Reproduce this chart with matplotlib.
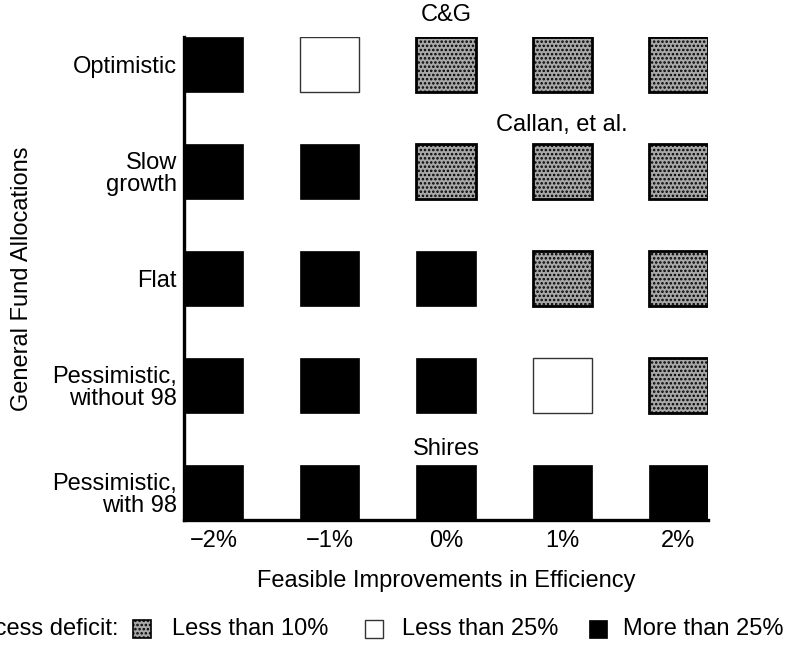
import matplotlib
matplotlib.use("Agg")
import matplotlib.pyplot as plt
from matplotlib.patches import Rectangle

# Scenarios listed top to bottom, improvement levels left to right
scenarios = ["Optimistic", "Slow\ngrowth", "Flat", "Pessimistic,\nwithout 98", "Pessimistic,\nwith 98"]
improvements = ["\u22122%", "\u22121%", "0%", "1%", "2%"]

# Deficit class per cell: 0 = less than 10%, 1 = less than 25%, 2 = more than 25%
deficit_class = [
    [2, 1, 0, 0, 0],
    [2, 2, 0, 0, 0],
    [2, 2, 2, 0, 0],
    [2, 2, 2, 1, 0],
    [2, 2, 2, 2, 2],
]
class_labels = ["Less than 10%", "Less than 25%", "More than 25%"]

annotations = [("C&G", 2, 4.46), ("Callan, et al.", 3, 3.43), ("Shires", 2, 0.41)]

plt.rcParams["font.family"] = ["Liberation Sans", "DejaVu Sans"]
plt.rcParams["hatch.linewidth"] = 1.2
FS = 17

STYLES = {
    0: dict(facecolor="#a8a8a8", edgecolor="black", hatch="....", linewidth=2.0),
    1: dict(facecolor="white", edgecolor="#333333", linewidth=1.0),
    2: dict(facecolor="black", edgecolor="black", linewidth=0.5),
}

W, H = 0.509, 0.514

fig = plt.figure(figsize=(7.86, 6.49), dpi=100)
ax = fig.add_axes([184 / 786, 1 - 520 / 649, 524 / 786, 483 / 649])

n_rows = len(scenarios)
for cls in range(3):
    xs, ys = [], []
    for r, row in enumerate(deficit_class):
        for c, v in enumerate(row):
            if v == cls:
                xs.append(c)
                ys.append(n_rows - 1 - r)
    ax.bar(xs, H, bottom=[y - H / 2 for y in ys], width=W, **STYLES[cls], zorder=2)

ax.set_xlim(-W / 2, len(improvements) - 1 + W / 2)
ax.set_ylim(-H / 2, n_rows - 1 + H / 2)
ax.set_xticks(range(len(improvements)))
ax.set_xticklabels(improvements, fontsize=FS)
ax.set_yticks(range(n_rows))
ax.set_yticklabels(scenarios[::-1], fontsize=FS, linespacing=1.0)
ax.tick_params(axis="both", length=0)
ax.tick_params(axis="x", pad=7)
ax.tick_params(axis="y", pad=5)

for side in ("top", "right"):
    ax.spines[side].set_visible(False)
for side in ("left", "bottom"):
    ax.spines[side].set_linewidth(2.4)
    ax.spines[side].set_zorder(3)

ax.set_xlabel("Feasible Improvements in Efficiency", fontsize=FS, labelpad=13)
ax.set_ylabel("General Fund Allocations", fontsize=FS, labelpad=14)

for text, x, y in annotations:
    ax.text(x, y, text, ha="center", va="center", fontsize=FS, clip_on=False)

# Legend row along the bottom of the figure (its title runs off the left edge, as in the source)
ly = 1 - 629 / 649
fig.text(118 / 786, ly, "Excess deficit:", ha="right", va="center", fontsize=FS)
icon_x = [133, 365, 589]
text_x = [172, 402, 623]
size = 18
for cls, (ix, tx) in enumerate(zip(icon_x, text_x)):
    style = dict(STYLES[cls])
    style["linewidth"] = min(style["linewidth"], 1.2)
    fig.add_artist(Rectangle((ix / 786, ly - size / 2 / 649), size / 786, size / 649,
                             transform=fig.transFigure, **style))
    fig.text(tx / 786, ly, class_labels[cls], ha="left", va="center", fontsize=FS)

fig.savefig("out.png", dpi=100)
